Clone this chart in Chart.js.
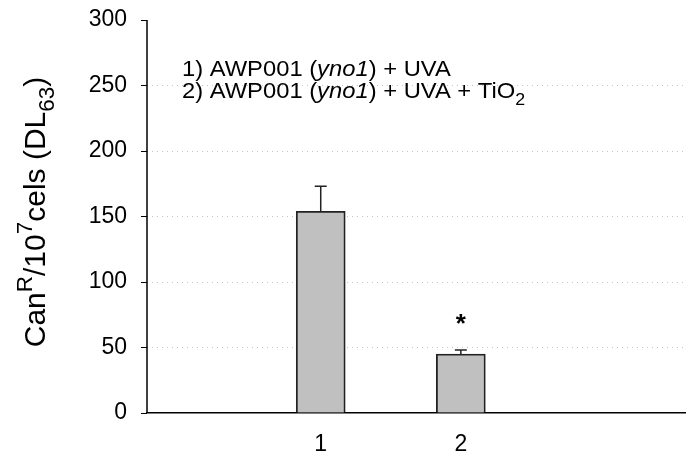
<!DOCTYPE html>
<html>
<head>
<meta charset="utf-8">
<script src="https://cdn.jsdelivr.net/npm/chart.js@4.4.0/dist/chart.umd.min.js"></script>
<style>
  html, body { margin: 0; padding: 0; background: #fff; }
  #wrap { width: 694px; height: 459px; }
</style>
</head>
<body>
<div id="wrap"><canvas id="myChart" width="694" height="459"></canvas></div>
<script>
// data
var groups = ['1', '2'];
var positions = [1, 2];
var means = [154, 45];
var errors = [19, 3];
var yTicks = [0, 50, 100, 150, 200, 250, 300];
var starred = [false, true];
var legendLines = [
  [{t: '1) AWP001 ('}, {t: 'yno1', i: true}, {t: ') + UVA'}],
  [{t: '2) AWP001 ('}, {t: 'yno1', i: true}, {t: ') + UVA + TiO'}, {t: '2', sub: true}]
];

var FONT = '"Liberation Sans", Arial, sans-serif';

function drawRuns(ctx, runs, x, y, size) {
  for (var i = 0; i < runs.length; i++) {
    var r = runs[i];
    var fs = size, dy = 0;
    if (r.sub) { fs = size * 0.75; dy = size * 0.3; }
    if (r.sup) { fs = size * 0.75; dy = -size * 0.45; }
    ctx.font = (r.i ? 'italic ' : '') + fs + 'px ' + FONT;
    ctx.fillText(r.t, x, y + dy);
    x += ctx.measureText(r.t).width;
  }
  return x;
}
function runsWidth(ctx, runs, size) {
  var w = 0;
  for (var i = 0; i < runs.length; i++) {
    var r = runs[i];
    var fs = (r.sub || r.sup) ? size * 0.75 : size;
    ctx.font = (r.i ? 'italic ' : '') + fs + 'px ' + FONT;
    w += ctx.measureText(r.t).width;
  }
  return w;
}

var extras = {
  id: 'extras',
  afterDatasetsDraw: function (chart) {
    var ctx = chart.ctx;
    var xs = chart.scales.x, ys = chart.scales.y;
    var area = chart.chartArea;
    ctx.save();
    ctx.setLineDash([]);
    // y axis line (solid, grid lines stay dotted)
    ctx.strokeStyle = '#000';
    ctx.lineWidth = 1.5;
    ctx.beginPath();
    ctx.moveTo(area.left, area.top);
    ctx.lineTo(area.left, area.bottom);
    ctx.stroke();
    // error bars
    ctx.strokeStyle = '#222';
    ctx.lineWidth = 1.5;
    for (var i = 0; i < means.length; i++) {
      var px = xs.getPixelForValue(positions[i]);
      var y0 = ys.getPixelForValue(means[i]);
      var y1 = ys.getPixelForValue(means[i] + errors[i]);
      ctx.beginPath();
      ctx.moveTo(px, y0); ctx.lineTo(px, y1);
      ctx.moveTo(px - 6, y1); ctx.lineTo(px + 6, y1);
      ctx.stroke();
      if (starred[i]) {
        ctx.fillStyle = '#000';
        ctx.font = 'bold 26px ' + FONT;
        ctx.textAlign = 'center';
        ctx.textBaseline = 'alphabetic';
        ctx.fillText('*', px, y1 - 18);
      }
    }
    // legend text
    ctx.fillStyle = '#000';
    ctx.textAlign = 'left';
    ctx.textBaseline = 'alphabetic';
    ctx.save();
    ctx.translate(182, 0);
    ctx.scale(1.08, 1);
    drawRuns(ctx, legendLines[0], 0, 76, 22);
    drawRuns(ctx, legendLines[1], 0, 98, 22);
    ctx.restore();
    // y axis title
    var title = [{t: 'Can'}, {t: 'R', sup: true}, {t: '/10'}, {t: '7', sup: true}, {t: 'cels (DL'}, {t: '63', sub: true}, {t: ')'}];
    ctx.translate(45, 212);
    ctx.rotate(-Math.PI / 2);
    var w = runsWidth(ctx, title, 30);
    drawRuns(ctx, title, -w / 2, 0, 30);
    ctx.restore();
  }
};

var ctx = document.getElementById('myChart').getContext('2d');
var myChart = new Chart(ctx, {
  type: 'bar',
  data: {
    datasets: [{
      data: positions.map(function (p, i) { return {x: p, y: means[i]}; }),
      backgroundColor: '#c0c0c0',
      borderColor: '#222',
      borderWidth: 1.8,
      barThickness: 49
    }]
  },
  options: {
    responsive: false,
    animation: false,
    layout: { padding: { top: 0, right: 9, left: 0, bottom: 0 } },
    plugins: { legend: { display: false }, tooltip: { enabled: false } },
    scales: {
      x: {
        type: 'linear',
        offset: false,
        min: -0.24,
        max: 3.6,
        afterBuildTicks: function (scale) {
          scale.ticks = positions.map(function (p) { return {value: p}; });
        },
        afterFit: function (scale) { scale.height = 46; },
        ticks: {
          callback: function (v) { var k = positions.indexOf(v); return k >= 0 ? groups[k] : ''; },
          color: '#000',
          font: { family: FONT, size: 23 },
          padding: 18,
          maxRotation: 0
        },
        grid: { display: false, drawTicks: false },
        border: { display: true, color: '#000', width: 1.5 }
      },
      y: {
        min: 0,
        max: 300,
        afterBuildTicks: function (scale) {
          scale.ticks = yTicks.map(function (v) { return {value: v}; });
        },
        afterFit: function (scale) {
          scale.width = 147;
          scale.paddingTop = 20;
          scale.paddingBottom = 0;
        },
        ticks: {
          color: '#000',
          font: { family: FONT, size: 23 },
          padding: 14
        },
        grid: {
          color: function (c) { return (c.tick && (c.tick.value === 0 || c.tick.value === 300)) ? 'rgba(0,0,0,0)' : '#c4c4c4'; },
          tickColor: '#000',
          tickLength: 6
        },
        border: { display: false, dash: [1, 4] }
      }
    }
  },
  plugins: [extras]
});
</script>
</body>
</html>
